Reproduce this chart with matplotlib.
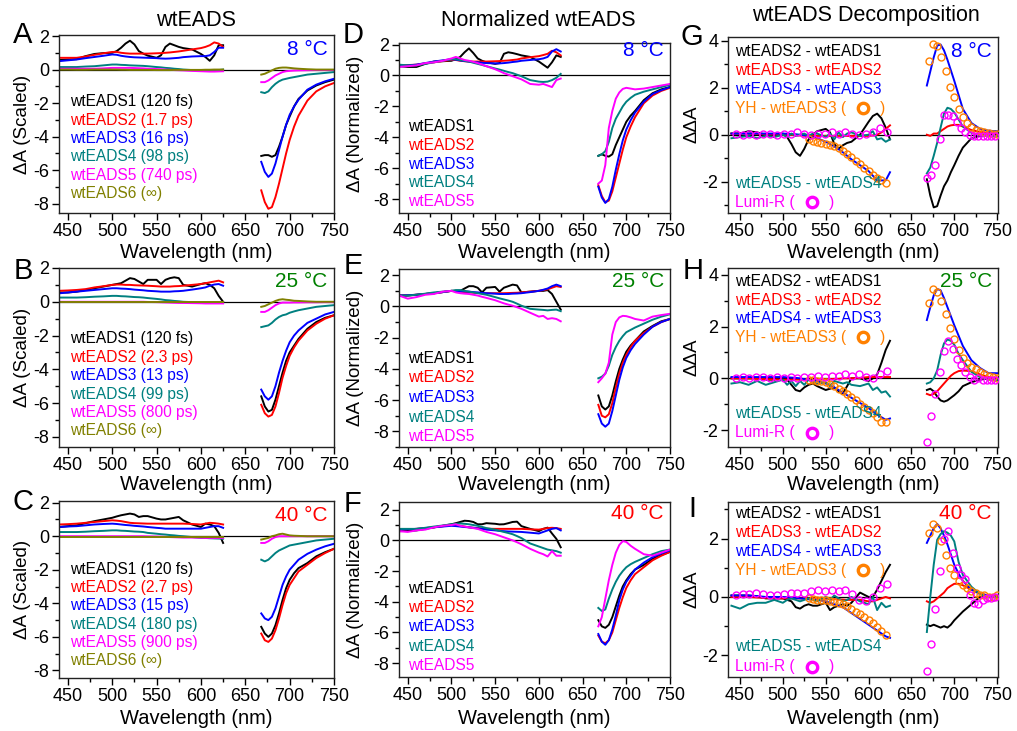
import matplotlib
matplotlib.use("Agg")
import matplotlib.pyplot as plt
from matplotlib.ticker import MultipleLocator

plt.rcParams['font.family'] = ['Liberation Sans', 'DejaVu Sans']
plt.rcParams['axes.unicode_minus'] = False

# probe windows (nm)
wl_vis = [440, 450, 460, 470, 480, 490, 500, 505, 510, 515, 520, 525, 530, 535, 540,
          550, 555, 560, 565, 570, 575, 580, 590, 600, 605, 610, 615, 620, 625]
wl_nir = [668, 672, 676, 680, 684, 688, 692, 696, 700, 705, 710, 720, 730, 740, 750]
# wavelengths of the reference difference spectra (open circles)
wl_yh_vis = list(range(530, 621, 5))
wl_yh_nir = list(range(670, 751, 5))
wl_lumi_vis = list(range(445, 622, 8))
wl_lumi_nir = list(range(668, 749, 5))

# ---------------- A: wtEADS scaled, 8 C ----------------
A1_vis = [.57, .6, .62, .8, .93, .98, 1.0, 1.1, 1.3, 1.55, 1.72, 1.5, 1.1, .95, .83, .7, .85, 1.35, 1.55, 1.45, 1.35, 1.28, 1.2, .93, .75, .52, .85, 1.45, 1.45]
A1_nir = [-5.15, -5.1, -5.1, -5.2, -5.1, -4.6, -4.0, -3.3, -2.8, -2.2, -1.75, -1.25, -.95, -.75, -.6]
A2_vis = [.7, .7, .7, .78, .88, .97, 1.05, 1.05, 1.0, .97, .95, .95, .95, .95, .95, .97, .98, 1.0, 1.02, 1.05, 1.08, 1.12, 1.2, 1.28, 1.35, 1.45, 1.62, 1.55, 1.35]
A2_nir = [-7.2, -7.9, -8.3, -8.2, -7.6, -6.8, -5.9, -5.0, -4.2, -3.4, -2.75, -1.85, -1.3, -1.0, -.8]
A3_vis = [.5, .55, .6, .68, .75, .82, .9, .88, .82, .78, .75, .73, .72, .71, .7, .68, .66, .65, .66, .68, .7, .74, .78, .8, .8, .85, 1.05, 1.3, 1.3]
A3_nir = [-5.5, -6.1, -6.4, -6.2, -5.6, -4.8, -4.0, -3.3, -2.7, -2.2, -1.8, -1.2, -.9, -.7, -.55]
A4_vis = [.15, .15, .15, .18, .2, .25, .3, .3, .28, .27, .25, .24, .23, .22, .2, .15, .13, .1, .08, .05, .03, 0, -.03, -.05, -.05, -.06, -.05, -.03, 0]
A4_nir = [-1.35, -1.4, -1.3, -1.05, -.85, -.7, -.6, -.55, -.5, -.45, -.4, -.3, -.25, -.2, -.15]
A5_vis = [.05, .05, .05, .05, .05, .07, .1, .1, .1, .1, .1, .09, .08, .07, .05, .03, .02, 0, -.01, -.03, -.04, -.05, -.08, -.1, -.11, -.12, -.12, -.11, -.1]
A5_nir = [-.75, -.75, -.65, -.5, -.35, -.25, -.15, -.1, -.08, -.06, -.05, -.04, -.03, -.03, -.03]
A6_vis = [0, 0, -.01, -.01, 0, 0, 0, 0, -.01, -.01, -.02, -.02, -.02, -.02, -.02, -.03, -.03, -.03, -.03, -.02, -.02, -.02, -.02, -.02, -.01, -.01, 0, 0, 0]
A6_nir = [-.3, -.25, -.15, -.05, .05, .1, .12, .12, .1, .07, .05, .02, 0, 0, 0]

# ---------------- B: wtEADS scaled, 25 C ----------------
B1_vis = [.55, .55, .6, .7, .8, .9, 1.0, 1.05, 1.1, 1.25, 1.4, 1.35, 1.2, 1.05, 1.3, 1.3, 1.05, 1.3, 1.4, 1.45, 1.4, 1.0, .9, 1.05, 1.1, 1.0, .8, .35, 0]
B1_nir = [-5.6, -6.2, -6.5, -6.4, -5.8, -5.0, -4.2, -3.5, -3.0, -2.6, -2.2, -1.6, -1.2, -.95, -.8]
B2_vis = [.65, .67, .7, .75, .85, .92, 1.0, 1.02, 1.02, 1.0, 1.0, .98, .97, .96, .95, .92, .9, .9, .9, .92, .93, .95, 1.0, 1.05, 1.1, 1.15, 1.2, 1.25, 1.15]
B2_nir = [-6.1, -6.6, -6.8, -6.7, -6.2, -5.4, -4.5, -3.8, -3.2, -2.7, -2.3, -1.7, -1.3, -1.0, -.8]
B3_vis = [.5, .55, .6, .65, .7, .75, .8, .8, .78, .77, .75, .72, .7, .68, .65, .62, .6, .6, .6, .62, .63, .65, .72, .8, .85, .95, 1.02, 1.05, .95]
B3_nir = [-5.2, -5.6, -5.8, -5.6, -5.0, -4.2, -3.5, -2.9, -2.4, -2.0, -1.7, -1.25, -1.0, -.75, -.6]
B4_vis = [.25, .25, .25, .27, .3, .32, .35, .35, .33, .32, .3, .28, .27, .25, .22, .17, .14, .1, .08, .05, .03, 0, -.02, -.05, -.05, -.05, -.05, -.05, -.05]
B4_nir = [-1.5, -1.45, -1.4, -1.25, -1.05, -.9, -.8, -.75, -.65, -.57, -.5, -.4, -.3, -.25, -.2]
B5_vis = [0, 0, 0, 0, 0, 0, 0, 0, 0, 0, 0, 0, 0, 0, -.01, -.02, -.03, -.04, -.05, -.06, -.07, -.07, -.08, -.09, -.1, -.1, -.1, -.1, -.1]
B5_nir = [-.6, -.6, -.5, -.35, -.2, -.1, -.05, -.05, -.05, -.04, -.04, -.03, -.03, -.02, -.02]
B6_vis = [-.02, -.02, -.02, -.02, -.02, -.02, -.02, -.02, -.02, -.02, -.02, -.02, -.02, -.02, -.02, -.02, -.02, -.02, -.02, -.02, -.02, -.02, -.02, -.02, -.02, -.02, -.02, -.02, -.02]
B6_nir = [-.3, -.25, -.15, -.05, .05, .12, .15, .12, .1, .06, .05, .02, 0, 0, 0]

# ---------------- C: wtEADS scaled, 40 C ----------------
C1_vis = [.55, .6, .65, .78, .9, 1.0, 1.1, 1.18, 1.25, 1.3, 1.35, 1.3, 1.15, 1.2, 1.2, 1.05, 1.0, 1.0, 1.05, 1.1, 1.15, .95, .7, .55, .75, .7, .6, .2, -.4]
C1_nir = [-5.4, -5.8, -6.0, -5.8, -5.3, -4.6, -3.8, -3.1, -2.6, -2.2, -1.9, -1.6, -1.2, -.95, -.75]
C2_vis = [.7, .72, .75, .8, .85, .9, .95, .93, .9, .85, .8, .78, .77, .76, .75, .75, .75, .75, .75, .75, .75, .75, .73, .7, .75, .8, .78, .75, .7]
C2_nir = [-5.8, -6.2, -6.3, -6.1, -5.6, -4.9, -4.1, -3.4, -2.9, -2.5, -2.1, -1.7, -1.3, -1.0, -.75]
C3_vis = [.55, .58, .6, .65, .7, .73, .75, .73, .7, .67, .65, .62, .6, .58, .55, .5, .48, .45, .45, .45, .45, .45, .45, .45, .5, .55, .6, .6, .5]
C3_nir = [-4.6, -4.9, -5.0, -4.8, -4.3, -3.6, -2.9, -2.4, -2.0, -1.7, -1.4, -1.05, -.8, -.6, -.45]
C4_vis = [.25, .25, .25, .27, .3, .32, .35, .35, .33, .32, .3, .28, .27, .25, .2, .15, .12, .1, .07, .05, .02, 0, -.05, -.1, -.1, -.12, -.13, -.14, -.15]
C4_nir = [-1.4, -1.5, -1.4, -1.2, -1.0, -.85, -.75, -.65, -.55, -.5, -.45, -.35, -.25, -.2, -.15]
C5_vis = [0, 0, 0, 0, 0, 0, 0, 0, 0, 0, 0, 0, 0, 0, -.01, -.02, -.03, -.04, -.05, -.06, -.07, -.08, -.08, -.09, -.1, -.1, -.1, -.1, -.1]
C5_nir = [-.4, -.4, -.3, -.15, -.05, 0, 0, 0, 0, 0, 0, 0, 0, 0, 0]
C6_vis = [-.03, -.03, -.03, -.03, -.03, -.03, -.03, -.03, -.03, -.03, -.03, -.03, -.03, -.03, -.03, -.03, -.03, -.03, -.03, -.03, -.03, -.03, -.03, -.03, -.03, -.03, -.03, -.03, -.03]
C6_nir = [-.2, -.15, -.1, 0, .05, .12, .15, .1, .05, .03, .02, 0, 0, 0, 0]

# ---------------- D: normalized wtEADS, 8 C ----------------
D1_vis = [.6, .55, .55, .75, .9, .92, .95, 1.05, 1.2, 1.5, 1.75, 1.45, 1.1, .95, .85, .75, .8, 1.4, 1.5, 1.45, 1.38, 1.3, 1.2, .9, .7, .5, .85, 1.3, 1.2]
D1_nir = [-5.2, -5.1, -5.2, -5.25, -5.1, -4.5, -4.0, -3.5, -3.0, -2.6, -2.3, -1.6, -1.15, -.9, -.75]
D2_vis = [.65, .67, .7, .78, .85, .93, 1.0, 1.0, .95, .92, .9, .9, .9, .9, .9, .92, .93, .95, .97, 1.0, 1.03, 1.1, 1.18, 1.25, 1.32, 1.4, 1.6, 1.5, 1.3]
D2_nir = [-7.1, -7.8, -8.2, -8.1, -7.5, -6.6, -5.7, -4.8, -4.0, -3.3, -2.7, -1.8, -1.3, -1.0, -.8]
D3_vis = [.6, .65, .7, .8, .9, .98, 1.05, 1.02, .97, .93, .9, .87, .85, .82, .8, .78, .78, .8, .83, .87, .9, .95, 1.0, 1.05, 1.1, 1.2, 1.55, 1.7, 1.55]
D3_nir = [-7.2, -7.9, -8.25, -8.0, -7.2, -6.1, -5.1, -4.2, -3.5, -2.9, -2.4, -1.7, -1.2, -.95, -.75]
D4_vis = [.7, .65, .65, .75, .85, .95, 1.05, 1.05, 1.0, .95, .9, .82, .75, .68, .6, .45, .38, .3, .22, .15, .05, -.05, -.3, -.4, -.42, -.4, -.3, -.15, .1]
D4_nir = [-5.2, -5.1, -4.9, -4.3, -3.4, -2.8, -2.4, -2.0, -1.7, -1.45, -1.25, -1.05, -.9, -.75, -.6]
D5_vis = [.55, .6, .65, .8, .85, .95, 1.1, 1.2, 1.1, 1.0, .95, .88, .8, .7, .6, .4, .28, .15, .05, -.05, -.15, -.25, -.55, -.6, -.55, -.65, -.75, -.3, -.2]
D5_nir = [-7.0, -6.8, -5.8, -3.4, -2.3, -1.5, -1.1, -.87, -.8, -.85, -.9, -.85, -.75, -.65, -.55]

# ---------------- E: normalized wtEADS, 25 C ----------------
E1_vis = [.7, .7, .75, .8, .85, .92, 1.0, 1.0, 1.0, 1.15, 1.3, 1.3, 1.2, .9, 1.2, 1.25, .95, 1.2, 1.3, 1.4, 1.35, .9, .95, 1.0, 1.0, 1.05, .8, .3, -.2]
E1_nir = [-5.7, -6.4, -6.6, -6.4, -5.7, -4.8, -4.0, -3.4, -2.9, -2.5, -2.2, -1.6, -1.25, -.95, -.8]
E2_vis = [.7, .72, .75, .8, .85, .92, 1.0, .98, .95, .92, .9, .88, .87, .86, .85, .85, .85, .85, .86, .87, .88, .9, .95, 1.0, 1.05, 1.1, 1.2, 1.3, 1.25]
E2_nir = [-6.3, -7.0, -7.1, -6.9, -6.2, -5.2, -4.3, -3.6, -3.1, -2.6, -2.2, -1.7, -1.3, -1.0, -.8]
E3_vis = [.7, .72, .75, .8, .85, .92, 1.0, .98, .97, .96, .95, .92, .9, .87, .85, .82, .8, .8, .8, .82, .83, .85, .92, 1.0, 1.07, 1.15, 1.3, 1.4, 1.3]
E3_nir = [-6.9, -7.5, -7.7, -7.5, -6.7, -5.7, -4.7, -3.9, -3.3, -2.8, -2.4, -1.8, -1.3, -1.0, -.8]
E4_vis = [.7, .7, .75, .82, .9, .95, 1.0, 1.05, 1.05, 1.0, .95, .9, .85, .8, .75, .6, .52, .45, .38, .3, .18, .05, -.15, -.2, -.22, -.25, -.22, -.2, -.3]
E4_nir = [-4.6, -4.5, -4.3, -3.8, -3.1, -2.6, -2.2, -1.9, -1.65, -1.5, -1.35, -1.1, -.85, -.65, -.5]
E5_vis = [.7, .5, .6, .75, .8, .95, 1.0, .9, .85, .82, .8, .75, .7, .62, .55, .4, .3, .2, .12, .05, -.05, -.15, -.4, -.65, -.6, -.8, -.75, -.8, -.95]
E5_nir = [-4.85, -4.6, -4.3, -3.6, -1.8, -1.0, -.7, -.6, -.62, -.7, -.8, -.9, -.65, -.55, -.47]

# ---------------- F: normalized wtEADS, 40 C ----------------
F1_vis = [.6, .62, .65, .75, .85, .95, 1.05, 1.12, 1.2, 1.28, 1.26, 1.2, 1.05, 1.05, 1.12, 1.08, 1.04, 1.05, 1.12, 1.2, 1.22, .93, .75, .6, .75, .83, .45, .1, -.45]
F1_nir = [-5.2, -5.6, -5.7, -5.5, -5.0, -4.3, -3.6, -3.0, -2.6, -2.2, -1.9, -1.6, -1.2, -.95, -.75]
F2_vis = [.7, .72, .75, .8, .85, .92, 1.0, .98, .95, .9, .85, .82, .8, .78, .76, .75, .75, .75, .75, .75, .75, .75, .72, .7, .75, .8, .82, .8, .75]
F2_nir = [-6.2, -6.6, -6.7, -6.5, -6.0, -5.2, -4.4, -3.7, -3.1, -2.6, -2.2, -1.75, -1.3, -1.0, -.75]
F3_vis = [.7, .72, .75, .8, .85, .9, .95, .93, .9, .87, .85, .82, .78, .75, .7, .65, .62, .6, .58, .57, .56, .55, .5, .45, .55, .65, .75, .8, .65]
F3_nir = [-6.1, -6.6, -6.8, -6.5, -5.8, -4.9, -3.9, -3.2, -2.7, -2.3, -1.9, -1.45, -1.1, -.85, -.65]
F4_vis = [.75, .75, .75, .82, .9, .97, 1.05, 1.08, 1.1, 1.08, 1.05, 1.0, .95, .88, .8, .7, .62, .55, .48, .4, .28, .15, -.2, -.4, -.5, -.6, -.65, -.7, -.8]
F4_nir = [-4.4, -4.6, -4.5, -3.8, -3.2, -2.7, -2.3, -2.0, -1.75, -1.55, -1.4, -1.15, -.9, -.7, -.6]
F5_vis = [.6, .55, .65, .7, .85, .95, 1.0, 1.05, .95, .9, .85, .8, .75, .65, .55, .4, .3, .2, .1, 0, -.12, -.25, -.55, -.8, -.9, -1.05, -.7, -1.0, -1.0]
F5_nir = [-5.6, -5.0, -3.8, -2.6, -1.6, -.8, -.3, -.05, -.1, -.35, -.55, -.9, -1.0, -.8, -.6]

# ---------------- G: decomposition, 8 C ----------------
G21_vis = [.05, .05, .15, .1, 0, 0, .05, -.1, -.4, -.75, -.9, -.6, -.2, 0, .15, .25, .1, -.4, -.6, -.45, -.35, -.3, 0, .55, .8, .9, .7, .3, -.2]
G21_nir = [-1.9, -2.6, -3.1, -3.05, -2.6, -2.2, -1.95, -1.6, -1.3, -.9, -.55, -.15, -.05, 0, 0]
G32_vis = [.05, .05, .04, .03, .02, .01, 0, 0, -.01, -.02, -.03, -.04, -.05, -.05, -.05, -.05, -.05, -.05, -.05, -.05, -.05, -.05, -.05, -.05, -.03, 0, .1, .25, .4]
G32_nir = [0, -.05, .05, .05, .15, .25, .35, .4, .42, .42, .35, .2, .12, .08, .05]
G43_vis = [.05, .05, .05, .05, .05, .05, .05, .04, .03, .02, 0, -.02, -.05, -.1, -.15, -.3, -.4, -.5, -.62, -.75, -.9, -1.05, -1.3, -1.55, -1.75, -1.95, -1.95, -1.95, -1.6]
G43_nir = [2.1, 2.7, 3.3, 3.8, 3.85, 3.6, 3.2, 2.75, 2.3, 1.7, 1.1, .5, .25, .17, .15]
G54_vis = [-.15, -.1, -.05, -.15, -.05, -.1, 0, -.1, .05, -.05, 0, .05, -.05, .05, .05, -.1, .05, -.2, .1, -.1, .05, .1, -.05, 0, .15, -.2, -.15, -.3, -.2]
G54_nir = [-1.65, -1.4, -.9, -.35, .3, .9, 1.15, 1.1, .95, .65, .35, .08, -.02, -.05, -.05]
G_yh_vis = [-.2, -.25, -.3, -.35, -.4, -.45, -.5, -.58, -.7, -.82, -.95, -1.1, -1.25, -1.4, -1.55, -1.7, -1.85, -1.95, -2.05]
G_yh_nir = [3.15, 3.85, 3.8, 3.3, 2.7, 2.05, 1.6, 1.1, .75, .5, .35, .22, .15, .1, .06, .04, .02]
G_lumi_vis = [.05, 0, .05, 0, .05, .05, 0, .05, .05, .1, .05, 0, .05, .05, .1, .05, .1, .05, 0, .05, .1, .3, .1]
G_lumi_nir = [-1.85, -1.7, -1.3, -.2, .85, .85, .8, .55, .3, .1, 0, -.05, -.05, -.05, -.05, -.05, -.05]

# ---------------- H: decomposition, 25 C ----------------
H21_vis = [0, 0, 0, 0, -.05, -.05, 0, -.05, -.25, -.45, -.5, -.35, -.25, -.2, -.3, -.45, -.4, -.35, -.5, -.58, -.3, 0, 0, -.1, 0, .15, .6, 1.1, 1.45]
H21_nir = [-.45, -.4, -.5, -.7, -.85, -.9, -.85, -.75, -.65, -.5, -.3, -.15, -.05, 0, -.05]
H32_vis = [0, 0, 0, -.02, -.03, -.04, -.05, -.05, -.05, -.05, -.05, -.05, -.05, -.05, -.05, -.04, -.03, -.02, -.02, 0, 0, 0, .02, .05, .05, .05, .05, .05, .05]
H32_nir = [-.6, -.65, -.6, -.5, -.35, -.2, -.05, .1, .2, .28, .3, .28, .15, .05, 0]
H43_vis = [.05, .05, .05, .05, .05, .05, .05, .04, .03, .02, 0, -.03, -.05, -.08, -.1, -.2, -.27, -.35, -.45, -.55, -.65, -.75, -.95, -1.15, -1.27, -1.4, -1.5, -1.6, -1.55]
H43_nir = [2.25, 2.75, 3.2, 3.45, 3.4, 3.1, 2.75, 2.4, 2.05, 1.65, 1.25, .7, .4, .2, .2]
H54_vis = [-.2, -.15, -.25, -.1, -.25, -.15, -.05, -.25, -.1, -.3, -.1, -.25, -.05, -.15, -.2, -.15, -.3, -.1, -.15, -.2, -.15, -.25, -.3, -.2, -.45, -.35, -.55, -.5, -.7]
H54_nir = [-.2, -.15, 0, .3, .9, 1.35, 1.5, 1.45, 1.3, .95, .7, .25, .05, -.05, -.05]
H_yh_vis = [-.05, -.08, -.1, -.12, -.15, -.2, -.3, -.4, -.5, -.6, -.72, -.85, -.98, -1.1, -1.22, -1.35, -1.5, -1.68, -1.7]
H_yh_nir = [2.9, 3.45, 3.35, 3.0, 2.5, 1.95, 1.5, 1.1, .8, .6, .45, .35, .25, .15, .1, .05, 0]
H_lumi_vis = [0, .05, 0, .05, .05, 0, .05, 0, .05, 0, .05, .05, .1, .05, .1, .1, .15, .1, .15, .05, 0, .15, .3]
H_lumi_nir = [-2.45, -1.45, -.6, .25, 1.05, 1.45, 1.15, .75, .5, .25, .05, -.05, 0, -.05, -.05, -.05, -.05]

# ---------------- I: decomposition, 40 C ----------------
I21_vis = [.05, .05, .05, .02, -.05, -.05, -.05, -.1, -.15, -.35, -.4, -.3, -.25, -.3, -.3, -.2, -.45, -.35, -.3, -.25, -.3, -.2, .15, 0, 0, .25, .55, .85, 1.1]
I21_nir = [-.95, -1.0, -.95, -1.0, -1.05, -1.0, -1.05, -.95, -.8, -.65, -.5, -.25, 0, 0, .05]
I32_vis = [0, 0, 0, -.02, -.03, -.04, -.05, -.05, -.05, -.05, -.05, -.05, -.05, -.05, -.05, -.06, -.07, -.08, -.08, -.09, -.1, -.1, -.1, -.15, -.15, -.1, -.05, 0, -.05]
I32_nir = [-.15, -.2, -.15, -.05, .05, .15, .3, .38, .45, .45, .4, .25, .12, .05, .05]
I43_vis = [.05, .05, .05, .03, 0, 0, 0, -.01, -.02, -.03, -.05, -.06, -.08, -.09, -.1, -.15, -.2, -.25, -.3, -.35, -.45, -.55, -.75, -.95, -1.05, -1.15, -1.25, -1.35, -1.4]
I43_nir = [1.85, 2.1, 2.35, 2.5, 2.35, 2.1, 1.8, 1.45, 1.1, .8, .55, .25, .1, .05, 0]
I54_vis = [-.3, -.4, -.25, -.2, -.2, -.1, -.2, -.1, -.05, -.1, -.15, -.1, -.05, -.1, -.15, 0, -.1, .05, -.05, -.15, -.1, 0, -.15, -.25, 0, -.45, -.2, -.35, -.3]
I54_nir = [-1.2, 0, 1.1, 1.95, 2.15, 2.25, 2.2, 2.1, 1.9, 1.2, .75, .35, .1, 0, 0]
I_yh_vis = [-.05, -.07, -.1, -.1, -.12, -.15, -.17, -.2, -.25, -.3, -.4, -.5, -.58, -.68, -.78, -.9, -1.02, -1.15, -1.3]
I_yh_nir = [2.2, 2.5, 2.35, 1.9, 1.45, 1.0, .75, .55, .4, .3, .2, .15, .08, .05, 0, 0, .05]
I_lumi_vis = [.05, .1, .1, .15, .1, .05, .05, .1, .15, .15, .15, .2, .25, .2, .25, .2, .25, .1, -.1, -.15, 0, .3, .45]
I_lumi_nir = [-2.55, -1.6, -.4, .9, 2.0, 2.25, 1.5, 1.0, .75, .6, .05, -.2, -.25, -.1, -.05, -.05, 0]

# legend labels
eads_names = ['wtEADS1', 'wtEADS2', 'wtEADS3', 'wtEADS4', 'wtEADS5', 'wtEADS6']
lifetimes_8 = ['120 fs', '1.7 ps', '16 ps', '98 ps', '740 ps', '\u221e']
lifetimes_25 = ['120 fs', '2.3 ps', '13 ps', '99 ps', '800 ps', '\u221e']
lifetimes_40 = ['120 fs', '2.7 ps', '15 ps', '180 ps', '900 ps', '\u221e']
diff_names = ['wtEADS2 - wtEADS1', 'wtEADS3 - wtEADS2', 'wtEADS4 - wtEADS3', 'wtEADS5 - wtEADS4']

K, RED, BLU, TEAL, MAG, OLIVE, ORANGE, GREEN = ('black', '#FF0000', '#0000FF', '#008080',
                                                '#FF00FF', '#808000', '#FF8000', '#008000')
eads_colors = [K, RED, BLU, TEAL, MAG, OLIVE]
diff_colors = [K, RED, BLU, TEAL]

W, H = 1017, 731
fig = plt.figure(figsize=(W / 100, H / 100), dpi=100)


def px_axes(l, t, r, b):
    return fig.add_axes([l / W, 1 - b / H, (r - l) / W, (b - t) / H])


def style(ax, xlim, ylim, ymajor):
    ax.set_xlim(*xlim)
    ax.set_ylim(*ylim)
    ax.xaxis.set_major_locator(MultipleLocator(50))
    ax.xaxis.set_minor_locator(MultipleLocator(25))
    ax.yaxis.set_major_locator(MultipleLocator(ymajor))
    ax.yaxis.set_minor_locator(MultipleLocator(ymajor / 2))
    ax.tick_params(which='major', direction='out', length=5, width=1, labelsize=13, pad=2)
    ax.tick_params(which='minor', direction='out', length=3, width=1)
    for s in ax.spines.values():
        s.set_linewidth(1.0)
        s.set_color('#222222')
    ax.axhline(0, color='black', lw=0.9, zorder=1)


def draw_pair(ax, vis, nir, color):
    ax.plot(wl_vis, vis, color=color, lw=1.4, zorder=2)
    ax.plot(wl_nir, nir, color=color, lw=1.4, zorder=2)


def temp_label(ax, txt, color, y):
    ax.text(0.977, y, txt, transform=ax.transAxes, ha='right', va='center',
            fontsize=15, color=color)


def fig_text(x, y, txt, **kw):
    fig.text(x / W, 1 - y / H, txt, **kw)


col_x = [(59, 334), (399, 670), (728, 998)]
temps = [('8 \u00b0C', BLU), ('25 \u00b0C', GREEN), ('40 \u00b0C', RED)]

# column 1: scaled wtEADS
scaled = [
    ((59, 35, 334, 213), (-8.55, 2.06), [A1_vis, A2_vis, A3_vis, A4_vis, A5_vis, A6_vis],
     [A1_nir, A2_nir, A3_nir, A4_nir, A5_nir, A6_nir], lifetimes_8, 0.625, 0.916),
    ((59, 268, 334, 447), (-8.6, 2.0), [B1_vis, B2_vis, B3_vis, B4_vis, B5_vis, B6_vis],
     [B1_nir, B2_nir, B3_nir, B4_nir, B5_nir, B6_nir], lifetimes_25, 0.605, 0.923),
    ((59, 501, 334, 678), (-8.45, 2.1), [C1_vis, C2_vis, C3_vis, C4_vis, C5_vis, C6_vis],
     [C1_nir, C2_nir, C3_nir, C4_nir, C5_nir, C6_nir], lifetimes_40, 0.614, 0.92),
]
for row, (box, ylim, vis, nir, lts, ly, ty) in enumerate(scaled):
    ax = px_axes(*box)
    style(ax, (440, 750), ylim, 2)
    for v, n, c in zip(vis, nir, eads_colors):
        draw_pair(ax, v, n, c)
    for i, (name, lt, c) in enumerate(zip(eads_names, lts, eads_colors)):
        ax.text(0.04, ly - i * 0.103, f'{name} ({lt})', transform=ax.transAxes,
                color=c, fontsize=11.2, va='center', ha='left')
    temp_label(ax, temps[row][0], temps[row][1], ty)

# column 2: normalized wtEADS
normed = [
    ((399, 43, 670, 213), (-8.9, 2.1), [D1_vis, D2_vis, D3_vis, D4_vis, D5_vis],
     [D1_nir, D2_nir, D3_nir, D4_nir, D5_nir], 0.508, 0.953),
    ((399, 269, 670, 447), (-9.0, 2.4), [E1_vis, E2_vis, E3_vis, E4_vis, E5_vis],
     [E1_nir, E2_nir, E3_nir, E4_nir, E5_nir], 0.498, 0.929),
    ((399, 502, 670, 677), (-8.9, 2.5), [F1_vis, F2_vis, F3_vis, F4_vis, F5_vis],
     [F1_nir, F2_nir, F3_nir, F4_nir, F5_nir], 0.507, 0.935),
]
for row, (box, ylim, vis, nir, ly, ty) in enumerate(normed):
    ax = px_axes(*box)
    style(ax, (440, 750), ylim, 2)
    for v, n, c in zip(vis, nir, eads_colors):
        draw_pair(ax, v, n, c)
    for i, (name, c) in enumerate(zip(eads_names[:5], eads_colors)):
        ax.text(0.033, ly - i * 0.11, name, transform=ax.transAxes,
                color=c, fontsize=11.2, va='center', ha='left')
    temp_label(ax, temps[row][0], temps[row][1], ty)

# column 3: decomposition of the EADS differences
decomp = [
    ((728, 37, 998, 213), (-3.34, 4.17), [G21_vis, G32_vis, G43_vis, G54_vis],
     [G21_nir, G32_nir, G43_nir, G54_nir], G_yh_vis, G_yh_nir, G_lumi_vis, G_lumi_nir,
     0.916, 0.107, 0.169, 0.061),
    ((728, 268, 998, 447), (-2.65, 4.26), [H21_vis, H32_vis, H43_vis, H54_vis],
     [H21_nir, H32_nir, H43_nir, H54_nir], H_yh_vis, H_yh_nir, H_lumi_vis, H_lumi_nir,
     0.922, 0.103, 0.188, 0.08),
    ((728, 502, 998, 677), (-2.74, 3.25), [I21_vis, I32_vis, I43_vis, I54_vis],
     [I21_nir, I32_nir, I43_nir, I54_nir], I_yh_vis, I_yh_nir, I_lumi_vis, I_lumi_nir,
     0.935, 0.108, 0.173, 0.059),
]
marker_slots = []
for row, (box, ylim, vis, nir, yv, yn, lv, ln, ly, dy, lb1, lb2) in enumerate(decomp):
    ax = px_axes(*box)
    style(ax, (436, 751), ylim, 2)
    mk = dict(ls='none', marker='o', ms=5, mfc='none', mew=1.0, zorder=3)
    ax.plot(wl_yh_vis, yv, mec=ORANGE, **mk)
    ax.plot(wl_yh_nir, yn, mec=ORANGE, **mk)
    ax.plot(wl_lumi_vis, lv, mec=MAG, **mk)
    ax.plot(wl_lumi_nir, ln, mec=MAG, **mk)
    for v, n, c in zip(vis, nir, diff_colors):
        draw_pair(ax, v, n, c)
    for i in range(3):
        ax.text(0.026, ly - i * dy, diff_names[i], transform=ax.transAxes,
                color=diff_colors[i], fontsize=11.2, va='center', ha='left')
    t = ax.text(0.026, ly - 3 * dy, 'YH - wtEADS3 (', transform=ax.transAxes,
                color=ORANGE, fontsize=11.2, va='center', ha='left')
    marker_slots.append((ax, t, ORANGE))
    ax.text(0.026, lb1, diff_names[3], transform=ax.transAxes,
            color=TEAL, fontsize=11.2, va='center', ha='left')
    t = ax.text(0.026, lb2, 'Lumi-R (', transform=ax.transAxes,
                color=MAG, fontsize=11.2, va='center', ha='left')
    marker_slots.append((ax, t, MAG))
    temp_label(ax, temps[row][0], temps[row][1], ly)

# circle symbols inside the legend entries
fig.canvas.draw()
for ax, t, col in marker_slots:
    bb = t.get_window_extent()
    yc = (bb.y0 + bb.y1) / 2
    inv = ax.transAxes.inverted()
    xm, ym = inv.transform((bb.x1 + 17, yc))
    ax.plot([xm], [ym], transform=ax.transAxes, marker='o', ms=7.5, mfc='none',
            mec=col, mew=2.4, clip_on=False)
    xp, yp = inv.transform((bb.x1 + 34, yc))
    ax.text(xp, yp, ')', transform=ax.transAxes, color=col, fontsize=11.2,
            va='center', ha='left')

# column titles, panel letters, axis labels
fig_text(196, 21, 'wtEADS', fontsize=15.5, ha='center', va='center')
fig_text(538, 20, 'Normalized wtEADS', fontsize=15.5, ha='center', va='center')
fig_text(866, 16, 'wtEADS Decomposition', fontsize=15.5, ha='center', va='center')

letters = [('A', 23, 35), ('B', 23, 271), ('C', 23, 502),
           ('D', 353, 35), ('E', 353, 266), ('F', 353, 504),
           ('G', 692, 37), ('H', 693, 271), ('I', 692, 509)]
for s, x, y in letters:
    fig_text(x, y, s, fontsize=21, ha='center', va='center')

rows_y = [(35, 213, 252), (268, 447, 484), (501, 678, 718)]
ylabels = [('\u0394A (Scaled)', 23), ('\u0394A (Normalized)', 356), ('\u0394\u0394A', 692)]
for (l, r), (yl, yx) in zip(col_x, ylabels):
    for top, bot, xl_y in rows_y:
        fig_text((l + r) / 2, xl_y, 'Wavelength (nm)', fontsize=14.5, ha='center', va='center')
        fig_text(yx, (top + bot) / 2, yl, fontsize=13.5, ha='center', va='center', rotation=90)

fig.savefig('out.png', dpi=100)
